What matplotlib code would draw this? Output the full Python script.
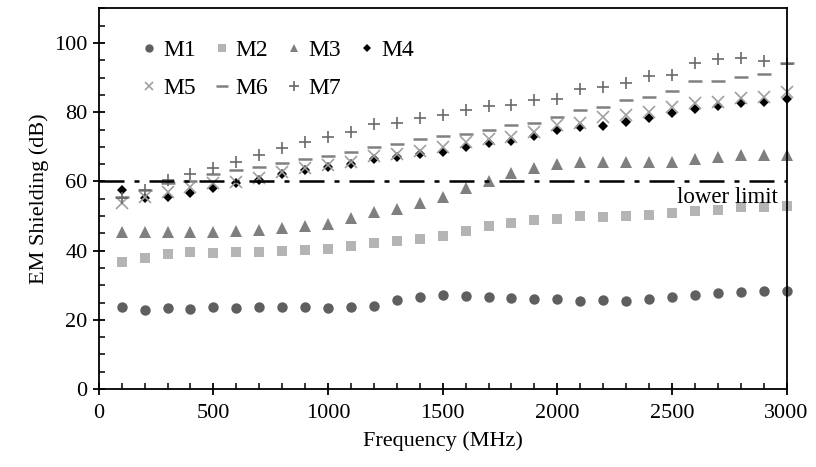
import numpy as np
import matplotlib
matplotlib.use('Agg')
import matplotlib.pyplot as plt
from matplotlib.ticker import MultipleLocator

# frequency points (MHz)
freq = list(range(100, 3100, 100))

m1 = [23.8, 22.8, 23.3, 23.0, 23.6, 23.3, 23.8, 23.8, 23.8, 23.3,
      23.6, 24.1, 25.7, 26.7, 27.2, 27.0, 26.5, 26.2, 25.9, 25.9,
      25.4, 25.7, 25.4, 25.9, 26.5, 27.2, 27.8, 28.0, 28.4, 28.4]
m2 = [36.8, 37.8, 39.0, 39.7, 39.4, 39.7, 39.7, 40.0, 40.2, 40.5,
      41.3, 42.1, 42.7, 43.4, 44.2, 45.8, 47.2, 48.0, 48.8, 49.2,
      50.1, 49.8, 50.1, 50.4, 50.9, 51.4, 51.8, 52.7, 52.7, 53.0]
m3 = [45.3, 45.5, 45.3, 45.5, 45.5, 45.8, 46.0, 46.4, 47.0, 47.8,
      49.5, 51.1, 52.0, 53.8, 55.6, 58.0, 60.1, 62.5, 63.8, 64.9,
      65.7, 65.7, 65.7, 65.7, 65.7, 66.6, 67.0, 67.6, 67.6, 67.6]
m4 = [57.5, 55.1, 55.6, 56.7, 58.0, 59.6, 60.4, 62.1, 63.3, 64.2,
      64.9, 66.4, 67.1, 67.9, 68.6, 69.8, 71.0, 71.8, 73.1, 74.9,
      75.8, 76.0, 77.3, 78.2, 79.7, 80.8, 81.8, 82.6, 83.0, 83.8]
m5 = [53.7, 55.6, 57.0, 58.5, 59.5, 59.9, 61.1, 62.8, 63.8, 64.7,
      65.7, 67.3, 67.9, 68.9, 70.0, 71.5, 72.4, 72.9, 74.4, 76.3,
      77.0, 78.7, 79.2, 80.2, 81.6, 82.7, 83.0, 84.2, 84.5, 85.9]
m6 = [55.6, 57.5, 59.6, 60.1, 62.1, 63.3, 64.2, 65.2, 66.6, 67.3,
      68.6, 70.0, 70.8, 72.2, 73.2, 73.6, 75.0, 76.3, 77.0, 78.5,
      80.6, 81.4, 83.5, 84.5, 86.2, 89.0, 89.0, 90.1, 91.0, 94.3]
m7 = [55.1, 57.5, 60.4, 62.1, 63.8, 65.7, 67.6, 69.6, 71.5, 72.9,
      74.4, 76.6, 77.0, 78.2, 79.2, 80.6, 81.8, 82.1, 83.5, 83.7,
      86.6, 87.2, 88.5, 90.5, 90.8, 94.1, 95.3, 95.6, 94.9, 94.0]

lower_limit = 60

plt.rcParams['font.family'] = ['Liberation Serif', 'DejaVu Serif']

fig = plt.figure(figsize=(8.16, 4.67), dpi=100)
ax = fig.add_axes([0.121, 0.167, 0.843, 0.815])

styles = [
    ('M1', m1, 'o', '#5f5f5f', 7.5),
    ('M2', m2, 's', '#b4b4b4', 7.5),
    ('M3', m3, '^', '#7f7f7f', 8),
    ('M4', m4, 'D', '#000000', 5.5),
    ('M5', m5, 'x', '#a0a0a0', 8),
    ('M6', m6, '_', '#808080', 10),
    ('M7', m7, '+', '#6a6a6a', 9),
]
handles = {}
for name, vals, mk, col, ms in styles:
    if mk in ('x', '+', '_'):
        h, = ax.plot(freq, vals, linestyle='none', marker=mk, color=col,
                     markersize=ms, markeredgewidth=1.8 if mk == '_' else 1.2,
                     label=name, clip_on=False)
    else:
        h, = ax.plot(freq, vals, linestyle='none', marker=mk, color=col,
                     markersize=ms, markeredgewidth=0, label=name, clip_on=False)
    handles[name] = h

ax.plot([0, 3000], [lower_limit, lower_limit], color='black', lw=1.8,
        linestyle=(0, (10, 4, 2, 4)))
ax.text(2960, 58.5, 'lower limit', ha='right', va='top', fontsize=16.5)

ax.set_xlim(0, 3000)
ax.set_ylim(0, 110)
ax.xaxis.set_major_locator(MultipleLocator(500))
ax.xaxis.set_minor_locator(MultipleLocator(100))
ax.yaxis.set_major_locator(MultipleLocator(20))
ax.yaxis.set_minor_locator(MultipleLocator(5))
ax.tick_params(which='major', direction='inout', length=9, width=1.3, labelsize=16)
ax.tick_params(which='minor', direction='in', length=4, width=1.1)
ax.tick_params(axis='x', pad=6)
for s in ax.spines.values():
    s.set_linewidth(1.3)

ax.set_xlabel('Frequency (MHz)', fontsize=16, labelpad=6)
ax.set_ylabel('EM Shielding (dB)', fontsize=16)

# legend filled row by row: M1 M2 M3 M4 / M5 M6 M7
order = ['M1', 'M5', 'M2', 'M6', 'M3', 'M7', 'M4']
ax.legend([handles[n] for n in order], order, loc='upper left', ncol=4,
          frameon=False, fontsize=17, handletextpad=0.1, columnspacing=0.6,
          handlelength=1.0, bbox_to_anchor=(0.035, 0.955), borderaxespad=0.2,
          labelspacing=0.7, markerscale=0.8)

fig.savefig('out.png', dpi=100)
